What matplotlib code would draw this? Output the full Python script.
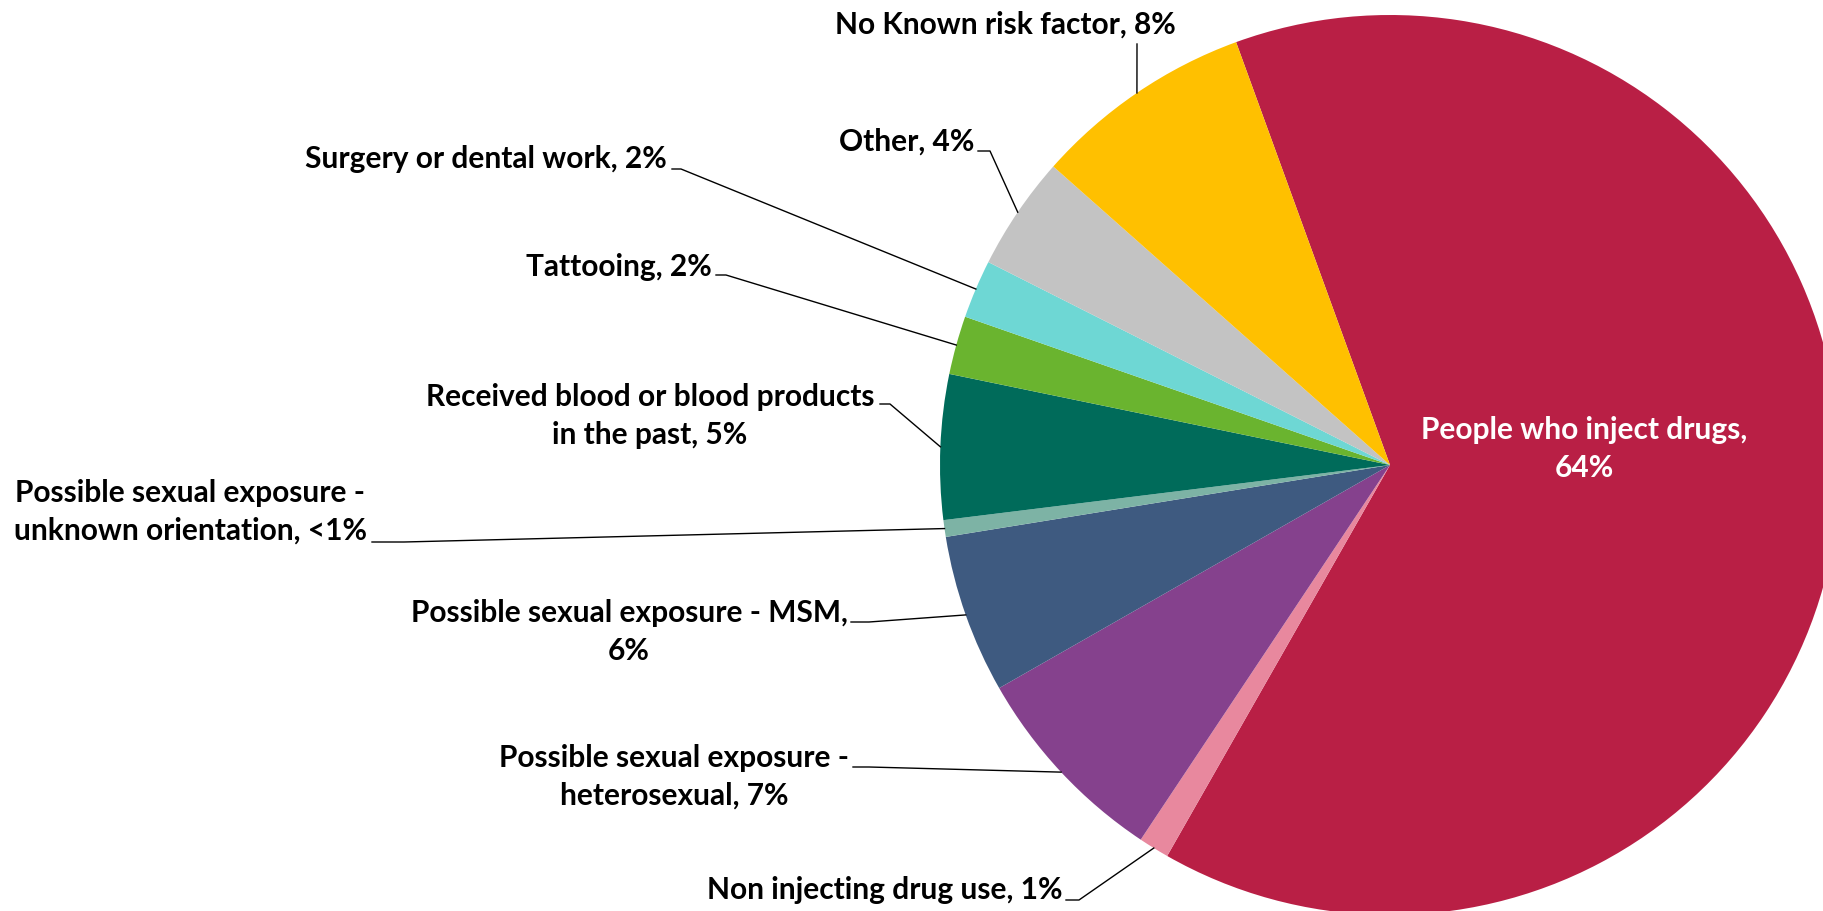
import numpy as np
import matplotlib
matplotlib.use('Agg')
import matplotlib.pyplot as plt

# risk factor shares (%), clockwise from the large slice
names = ['People who inject drugs', 'Non injecting drug use',
         'Possible sexual exposure -\nheterosexual', 'Possible sexual exposure - MSM,\n',
         'Possible sexual exposure -\nunknown orientation', 'Received blood or blood products\nin the past',
         'Tattooing', 'Surgery or dental work', 'Other', 'No Known risk factor']
shares = [63.8, 1.1, 7.4, 5.7, 0.6, 5.2, 2.1, 2.1, 4.1, 7.9]
colors = ['#B91F45', '#E8889E', '#85418D', '#3E5A80', '#7DB3A5',
          '#006B5A', '#6AB42F', '#6ED7D4', '#C3C3C3', '#FFC000']

# pie placement in pixels
W, H = 1824, 911
CX, CY, R = 1390, 465, 450


def to_data(x, y):
    return ((x - CX) / R, (CY - y) / R)


# label block centres and leader start / elbow points (pixels)
label_pos = [(1584, 449), (885, 890), (674, 777), (629, 632), (190, 512),
             (650, 416), (619, 267), (486, 159), (907, 142), (1005, 25)]
leader_pts = [None,
              [(1066, 900), (1079, 900)],
              [(853, 767), (869, 767)],
              [(851, 622), (869, 622)],
              [(372, 542), (404, 542)],
              [(880, 404), (890, 404)],
              [(716, 275), (726, 275)],
              [(672, 169), (681, 169)],
              [(978, 151), (990, 151)],
              [(1137, 44)]]

font = ['Liberation Sans Narrow', 'Lato', 'DejaVu Sans']

fig = plt.figure(figsize=(W / 100, H / 100), dpi=100)
ax = fig.add_axes([0, 0, 1, 1])

wedges, _ = ax.pie(shares, colors=colors, startangle=110, counterclock=False,
                   radius=1, center=(0, 0), wedgeprops=dict(linewidth=0))

for i, (w, name, v) in enumerate(zip(wedges, names, shares)):
    pct = '<1%' if v < 1 else f'{v:.0f}%'
    if name.endswith('\n'):
        text = name + pct
    else:
        text = f'{name}, {pct}'
    if i == 0:
        text = f'{name},\n{pct}'
    tx, ty = to_data(*label_pos[i])
    ax.text(tx, ty, text, ha='center', va='center', multialignment='center',
            fontsize=21.5, fontweight='bold', family=font,
            color='white' if i == 0 else 'black', linespacing=1.42)
    if leader_pts[i] is None:
        continue
    mid = np.deg2rad((w.theta1 + w.theta2) / 2)
    pts = [to_data(*p) for p in leader_pts[i]] + [(np.cos(mid), np.sin(mid))]
    xs, ys = zip(*pts)
    ax.plot(xs, ys, color='black', lw=1.0)

ax.set_xlim(-CX / R, (W - CX) / R)
ax.set_ylim(-(H - CY) / R, CY / R)
ax.set_aspect('auto')
ax.axis('off')

fig.savefig('out.png', dpi=100, facecolor='white')
